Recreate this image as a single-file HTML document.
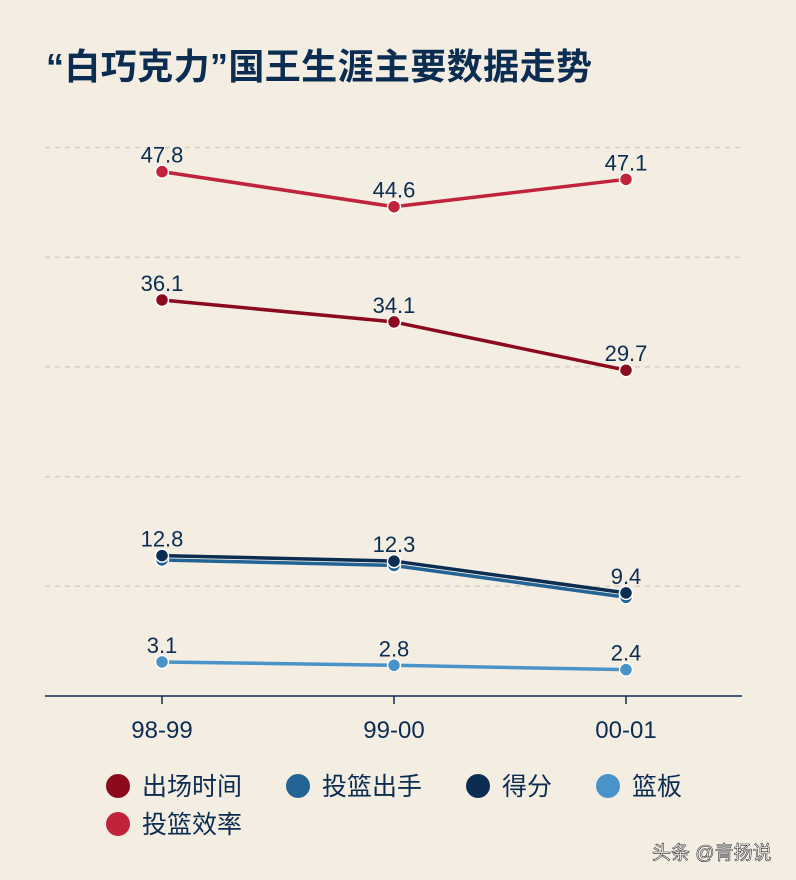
<!DOCTYPE html>
<html><head><meta charset="utf-8">
<style>
body{margin:0;background:#f3ede2;width:796px;height:880px;overflow:hidden;font-family:"Liberation Sans","Noto Sans CJK SC",sans-serif;}
</style></head>
<body>
<svg id="chart" width="796" height="880" xmlns="http://www.w3.org/2000/svg" style="position:absolute;left:0;top:0">
<rect width="796" height="880" fill="#f3ede2"/>
<text x="46" y="79" font-size="36" font-weight="bold" fill="#0b2d52" textLength="546" font-family="'Liberation Sans','Noto Sans CJK SC',sans-serif">“白巧克力”国王生涯主要数据走势</text>
<g id="grid"></g>
<g id="series"></g>
<g id="legend"></g>
<text x="652" y="859" font-size="19" fill="#fff" stroke="#333" stroke-width="0.6" font-family="'Liberation Sans','Noto Sans CJK SC',sans-serif">头条 @青扬说</text>
</svg>
<script>
const categories=["98-99","99-00","00-01"];
const gridTicks=[10,20,30,40,50];
const seriesNames=["出场时间","投篮出手","得分","篮板","投篮效率"];
const seriesColors=["#8b0a1e","#236496","#0b2d52","#4a93c8","#c0233a"];
const minutes=[36.1,34.1,29.7];
const attempts=[12.4,11.9,9.0];
const points=[12.8,12.3,9.4];
const rebounds=[3.1,2.8,2.4];
const efficiency=[47.8,44.6,47.1];
const allSeries=[minutes,attempts,points,rebounds,efficiency];
const labeled=[true,false,true,true,true];
const NS="http://www.w3.org/2000/svg";
const x=i=>162+i*232;
const y=v=>696-10.97*v;
function mk(tag,attrs,parent){const e=document.createElementNS(NS,tag);for(const k in attrs)e.setAttribute(k,attrs[k]);parent.appendChild(e);return e;}
const grid=document.getElementById('grid');
gridTicks.forEach(t=>{
  const l=mk('line',{x1:45,x2:742,y1:y(t),y2:y(t),stroke:'#d6d0c4','stroke-width':1.5,'stroke-dasharray':'5,5'},grid);
  
  
});
const ax=mk('line',{x1:45,x2:742,y1:696,y2:696,stroke:'#0b2d52','stroke-width':1.5},grid);


categories.forEach((c,i)=>{
  const tk=mk('line',{x1:x(i),x2:x(i),y1:696,y2:704,stroke:'#0b2d52','stroke-width':1.5},grid);
  
  
  const t=mk('text',{x:x(i),y:738,'text-anchor':'middle','font-size':24,fill:'#0b2d52'},grid);
  t.textContent=c;
  
  
});
const sg=document.getElementById('series');
const order=[1,2,0,3,4];
order.forEach(si=>{
  const d=allSeries[si];const col=seriesColors[si];
  const g=mk('g',{},sg);
  
  
  const p=mk('polyline',{points:d.map((v,i)=>x(i)+','+y(v)).join(' '),fill:'none',stroke:col,'stroke-width':3.5},g);
  
  
  d.forEach((v,i)=>{
    const c=mk('circle',{cx:x(i),cy:y(v),r:6.5,fill:col,stroke:'#fff','stroke-width':1.5},g);
    
    
    if(labeled[si]){
      const t=mk('text',{x:x(i),y:y(v)-9,'text-anchor':'middle','font-size':22,fill:'#0b2d52'},g);
      t.textContent=v.toFixed(1);
      
      
    }
  });
});
const lg=document.getElementById('legend');
const legPos=[[118,786],[298,786],[478,786],[608,786],[118,824]];
seriesNames.forEach((n,i)=>{
  const g=mk('g',{},lg);
  
  
  mk('circle',{cx:legPos[i][0],cy:legPos[i][1],r:12,fill:seriesColors[i]},g);
  const t=mk('text',{x:legPos[i][0]+24,y:legPos[i][1]+9,'font-size':25,fill:'#0b2d52'},g);
  t.textContent=n;
});
</script>
</body></html>
